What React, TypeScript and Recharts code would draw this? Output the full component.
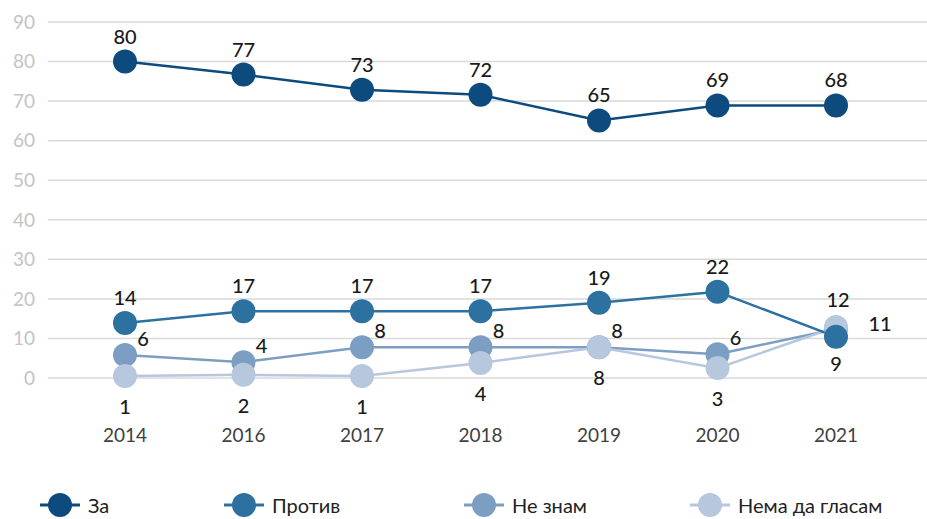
import React from 'react'
import { LineChart, Line, XAxis, YAxis, CartesianGrid, LabelList } from 'recharts'

const years = ['2014', '2016', '2017', '2018', '2019', '2020', '2021']

// plotted positions
const za = [80, 76.7, 72.9, 71.6, 65.1, 68.9, 68.9]
const protiv = [13.9, 16.9, 16.9, 16.9, 19, 21.8, 10.4]
const neZnam = [5.8, 4, 7.8, 7.8, 7.8, 6, 12.4]
const nemaGlasam = [0.5, 0.8, 0.5, 3.8, 7.8, 2.5, 12.9]

// printed labels
const zaLabels = ['80', '77', '73', '72', '65', '69', '68']
const protivLabels = ['14', '17', '17', '17', '19', '22', '9']
const neZnamLabels = ['6', '4', '8', '8', '8', '6', '12']
const nemaLabels = ['1', '2', '1', '4', '8', '3', '11']

const yTicks = [0, 10, 20, 30, 40, 50, 60, 70, 80, 90]

const data = years.map((y, i) => ({
  year: y,
  za: za[i],
  protiv: protiv[i],
  neZnam: neZnam[i],
  nema: nemaGlasam[i],
}))

const series = [
  { key: 'za', name: 'За', color: '#0d4a7d', labels: zaLabels },
  { key: 'protiv', name: 'Против', color: '#2d71a1', labels: protivLabels },
  { key: 'neZnam', name: 'Не знам', color: '#7d9ec3', labels: neZnamLabels },
  { key: 'nema', name: 'Нема да гласам', color: '#b6c7de', labels: nemaLabels },
]

// drawing order: later ones sit on top
const drawOrder = ['neZnam', 'nema', 'protiv', 'za']

const labelFont = { fontFamily: 'Lato, sans-serif', fontSize: 20, fontWeight: 500, fill: '#1a1a1a' }

function makeLabel(key: string, labels: string[]) {
  return (props: any) => {
    const { x, y, index } = props
    const text = labels[index]
    let dx = 0
    let dy = -26
    if (key === 'neZnam') {
      dx = 18
      dy = -17
      if (index === 6) { dx = 2; dy = -30 }
    }
    if (key === 'nema') {
      dy = 30
      if (index === 6) { dx = 44; dy = -4 }
    }
    if (key === 'protiv' && index === 6) { dy = 26 }
    return (
      <text x={x + dx} y={y + dy} textAnchor="middle" dominantBaseline="central" {...labelFont}>
        {text}
      </text>
    )
  }
}

const legendPos = [40, 224, 464, 690]

function LegendIcon({ color }: { color: string }) {
  return (
    <svg width={40} height={26} style={{ display: 'block' }}>
      <line x1={0} y1={13} x2={40} y2={13} stroke={color} strokeWidth={3} />
      <circle cx={20} cy={13} r={12} fill={color} />
    </svg>
  )
}

export default function App() {
  const ordered = drawOrder.map((k) => series.find((s) => s.key === k)!)
  return (
    <div style={{ position: 'absolute', left: 0, top: 0, width: 927, height: 519, background: '#fff' }}>
      <LineChart width={927} height={519} data={data} margin={{ top: 22, right: 0, left: 0, bottom: 41 }}>
        <CartesianGrid horizontal vertical={false} stroke="#d9d9d9" strokeWidth={1.5} />
        <XAxis
          dataKey="year"
          axisLine={false}
          tickLine={false}
          height={100}
          tickMargin={45}
          padding={{ left: 77, right: 91 }}
          tick={{ fill: '#404040', fontSize: 19, fontFamily: 'Lato, sans-serif' }}
        />
        <YAxis
          domain={[0, 90]}
          ticks={yTicks}
          width={48}
          axisLine={false}
          tickLine={false}
          tickMargin={7}
          tick={{ fill: '#c4c4c4', fontSize: 19, fontFamily: 'Lato, sans-serif' }}
        />
        {ordered.map((s) => (
          <Line
            key={s.key}
            dataKey={s.key}
            name={s.name}
            stroke={s.color}
            strokeWidth={2.5}
            dot={{ r: 12, fill: s.color, stroke: s.color, strokeWidth: 0 }}
            isAnimationActive={false}
          >
            <LabelList dataKey={s.key} content={makeLabel(s.key, s.labels)} />
          </Line>
        ))}
      </LineChart>
      {series.map((s, i) => (
        <div
          key={s.key}
          style={{
            position: 'absolute',
            left: legendPos[i],
            top: 492,
            display: 'flex',
            alignItems: 'center',
            fontFamily: 'Lato, sans-serif',
            fontSize: 20,
            color: '#222',
          }}
        >
          <LegendIcon color={s.color} />
          <span style={{ marginLeft: 8 }}>{s.name}</span>
        </div>
      ))}
    </div>
  )
}
